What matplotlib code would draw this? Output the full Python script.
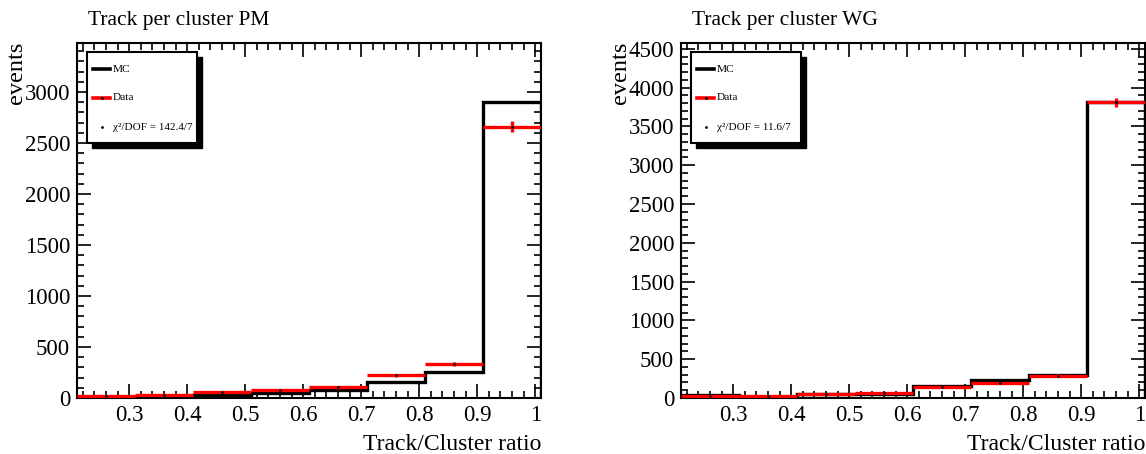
import numpy as np
import matplotlib.pyplot as plt
from matplotlib.ticker import MultipleLocator
from matplotlib.lines import Line2D

plt.rcParams['font.family'] = ['Liberation Serif', 'DejaVu Serif']

# bin edges (Track/Cluster ratio)
edges = np.array([0.21, 0.31, 0.41, 0.51, 0.61, 0.71, 0.81, 0.91, 1.01])

# PM
mc_pm = np.array([5, 8, 27, 46, 83, 155, 258, 2900])
data_pm = np.array([15, 30, 55, 80, 103, 222, 330, 2660])
# WG
mc_wg = np.array([35, 15, 52, 55, 155, 228, 295, 3812])
data_wg = np.array([20, 25, 57, 60, 143, 195, 286, 3810])

titles = ["Track per cluster PM", "Track per cluster WG"]
chi2 = ["142.4/7", "11.6/7"]
xlabel = "Track/Cluster ratio"
ylabel = "events"

W, H = 1146, 454
fig = plt.figure(figsize=(W/100, H/100), dpi=100)

panels = [(77, mc_pm, data_pm, 500), (681, mc_wg, data_wg, 500)]
for i, (x0, mc, dat, ystep) in enumerate(panels):
    ax = fig.add_axes([x0/W, (H-398)/H, 464/W, 355/H])
    ax.stairs(mc, edges, color='black', lw=2.4, zorder=2)
    cen = 0.5*(edges[:-1] + edges[1:])
    ax.errorbar(cen, dat, xerr=0.05, yerr=np.sqrt(dat), fmt='.', color='red',
                ecolor='red', elinewidth=2.4, capsize=0, mfc='black', mec='black',
                ms=2, zorder=3)
    ax.set_xlim(0.21, 1.01)
    ax.set_ylim(0, 1.2*mc.max())
    ax.xaxis.set_major_locator(MultipleLocator(0.1))
    ax.xaxis.set_minor_locator(MultipleLocator(0.02))
    ax.yaxis.set_major_locator(MultipleLocator(ystep))
    ax.yaxis.set_minor_locator(MultipleLocator(ystep/5))
    ax.xaxis.set_major_formatter(lambda v, p: f"{v:.1f}" if abs(v-1) > 1e-6 else "1")
    ax.tick_params(which='both', direction='in', top=True, right=True, labelsize=16.5, width=1.2)
    ax.tick_params(which='major', length=10, pad=5)
    ax.tick_params(which='minor', length=5)
    for s in ax.spines.values():
        s.set_linewidth(1.5)
    fig.text((x0+11)/W, 1-20/H, titles[i], fontsize=15.5, va='center', ha='left')
    fig.text((x0+464)/W, 1-445/H, xlabel, fontsize=17, va='center', ha='right')
    fig.text((x0-71)/W, 1-42/H, ylabel, fontsize=17.5, va='top', ha='left', rotation=90)

    # legend with shadow
    lx, ly, lw_, lh = x0+10, 52, 110, 91
    sh = plt.Rectangle(((lx+5)/W, 1-(ly+lh+5)/H), lw_/W, lh/H, transform=fig.transFigure,
                       facecolor='black', edgecolor='black', zorder=5)
    bx = plt.Rectangle((lx/W, 1-(ly+lh)/H), lw_/W, lh/H, transform=fig.transFigure,
                       facecolor='white', edgecolor='black', lw=1.5, zorder=6)
    fig.patches.extend([sh, bx])
    ys = [69, 98, 127]
    fig.lines.append(Line2D([(lx+6)/W, (lx+23)/W], [1-ys[0]/H]*2, transform=fig.transFigure,
                            color='black', lw=2.6, zorder=7))
    fig.lines.append(Line2D([(lx+6)/W, (lx+23)/W], [1-ys[1]/H]*2, transform=fig.transFigure,
                            color='red', lw=2.6, zorder=7))
    fig.lines.append(Line2D([(lx+14.5)/W], [1-ys[1]/H], transform=fig.transFigure,
                            marker='.', color='black', ms=2, zorder=8))
    fig.lines.append(Line2D([(lx+14.5)/W], [1-ys[2]/H], transform=fig.transFigure,
                            marker='.', color='black', ms=2, zorder=8))
    fig.text((lx+26)/W, 1-ys[0]/H, "MC", fontsize=8.2, va='center', zorder=9)
    fig.text((lx+26)/W, 1-ys[1]/H, "Data", fontsize=8.2, va='center', zorder=9)
    fig.text((lx+26)/W, 1-ys[2]/H, "χ²/DOF = " + chi2[i], fontsize=8, va='center', zorder=9)

fig.savefig("out.png", dpi=100)
